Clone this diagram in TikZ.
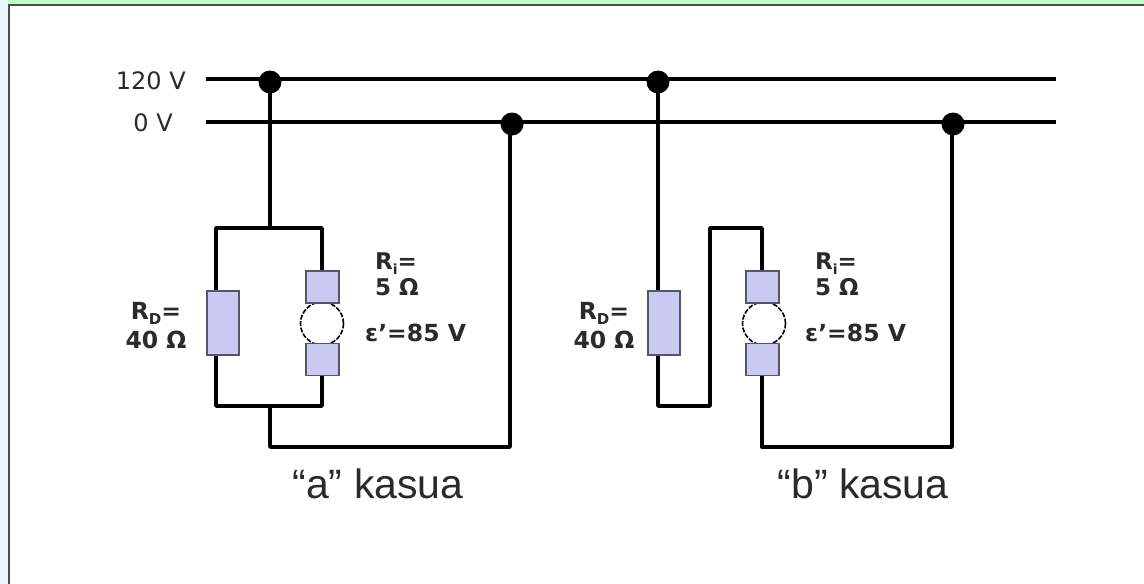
\documentclass[tikz,border=0pt]{standalone}
\usepackage{fontspec}
\setmainfont{DejaVu Sans}
\newfontfamily\capfont{Liberation Sans}
\definecolor{boxfill}{HTML}{C9C9F1}
\definecolor{boxedge}{HTML}{55556A}
\definecolor{txt}{HTML}{2A2A2A}
\tikzset{
  x=1pt,y=-1pt,
  wire/.style={line width=3.4pt,line join=round,line cap=round,black},
  rail/.style={line width=3.4pt,black},
  dot/.style={circle,fill=black,minimum size=23pt,inner sep=0pt},
  resbox/.style={draw=boxedge,fill=boxfill,line width=1.2pt,minimum width=32pt,minimum height=64pt,inner sep=0pt},
  polebox/.style={draw=boxedge,fill=boxfill,line width=1.2pt,minimum width=33pt,minimum height=32pt,inner sep=0pt},
  rotor/.style={circle,draw=black,fill=white,dash pattern=on 5pt off 1.5pt,line width=1.6pt,minimum size=43pt,inner sep=0pt},
  lab/.style={font=\fontsize{24}{28}\selectfont,text=txt,inner sep=0pt},
  vals/.style={font=\fontsize{23.5}{29}\selectfont\bfseries,text=txt,inner sep=0pt,align=center},
  rivals/.style={font=\fontsize{23}{26}\selectfont\bfseries,text=txt,inner sep=0pt,align=left},
  captext/.style={font=\capfont\fontsize{41}{47}\selectfont,text=txt,inner sep=0pt}
}
\begin{document}
\begin{tikzpicture}
\useasboundingbox (0,0) rectangle (1144,584);
% frame of the page
\fill[white] (0,0) rectangle (1144,584);
\fill[cyan!8!white] (0,0) rectangle (8,584);
\fill[green!25!white] (8,0) rectangle (1144,4);
\draw[line width=2pt,black!70] (8.5,584) -- (8.5,5) -- (1144,5);
% rails
\coordinate (t0) at (206,79);
\coordinate (t1) at (1056,79);
\coordinate (g0) at (206,122);
\coordinate (g1) at (1056,122);
\draw[rail] (t0) -- (t1);
\draw[rail] (g0) -- (g1);
\node[lab,anchor=east] (l120) at (186,81) {120 V};
\node[lab,anchor=east] (l0) at (173,123) {0 V};
% junction dots
\node[dot] (da) at (270,82) {};
\node[dot] (db) at (658,82) {};
\node[dot] (dc) at (512,124) {};
\node[dot] (dd) at (953,124) {};
% named corners, case a
\coordinate (atop) at (270,228);
\coordinate (atl) at (216,228);
\coordinate (atr) at (322,228);
\coordinate (abl) at (216,406);
\coordinate (abr) at (322,406);
\coordinate (abot) at (270,406);
\coordinate (alow) at (270,447);
\coordinate (alowr) at (510,447);
\coordinate (atap) at (510,124);
\draw[wire] (da.center) -- (atop);
\draw[wire] (atl) -- (atr) -- (abr) -- (abl) -- cycle;
\draw[wire] (abot) -- (alow) -- (alowr) -- (atap);
\node[resbox] (ra) at (223,323) {};
\node[rotor] (ma) at (322,323.5) {};
\node[polebox] (pa1) at (322.5,287) {};
\node[polebox] (pa2) at (322.5,359.5) {};
% case b
\coordinate (bjoin) at (658,406);
\coordinate (bup) at (710,406);
\coordinate (bupt) at (710,228);
\coordinate (bmt) at (762,228);
\coordinate (bmb) at (762,447);
\coordinate (blowr) at (952,447);
\coordinate (btap) at (952,124);
\draw[wire] (db.center) -- (bjoin) -- (bup) -- (bupt) -- (bmt) -- (bmb) -- (blowr) -- (btap);
\node[resbox] (rb) at (664,323) {};
\node[rotor] (mb) at (764,323.5) {};
\node[polebox] (pb1) at (762.5,287) {};
\node[polebox] (pb2) at (762.5,359.5) {};
% values, case a
\node[vals,anchor=north] (rda) at (156,302) {R\raisebox{-5pt}{\fontsize{15}{15}\selectfont D}=\\40 Ω};
\node[rivals,anchor=north west] (ria) at (375,253) {R\raisebox{-5pt}{\fontsize{14}{14}\selectfont i}=\\5 Ω};
\node[vals,anchor=west] (ea) at (365,333) {ε'=85 V};
% values, case b
\node[vals,anchor=north] (rdb) at (604,302) {R\raisebox{-5pt}{\fontsize{15}{15}\selectfont D}=\\40 Ω};
\node[rivals,anchor=north west] (rib) at (815,253) {R\raisebox{-5pt}{\fontsize{14}{14}\selectfont i}=\\5 Ω};
\node[vals,anchor=west] (eb) at (805,333) {ε'=85 V};
% captions
\node[captext] (ca) at (378,484) {“a” kasua};
\node[captext] (cb) at (863,484) {“b” kasua};
\end{tikzpicture}
\end{document}
